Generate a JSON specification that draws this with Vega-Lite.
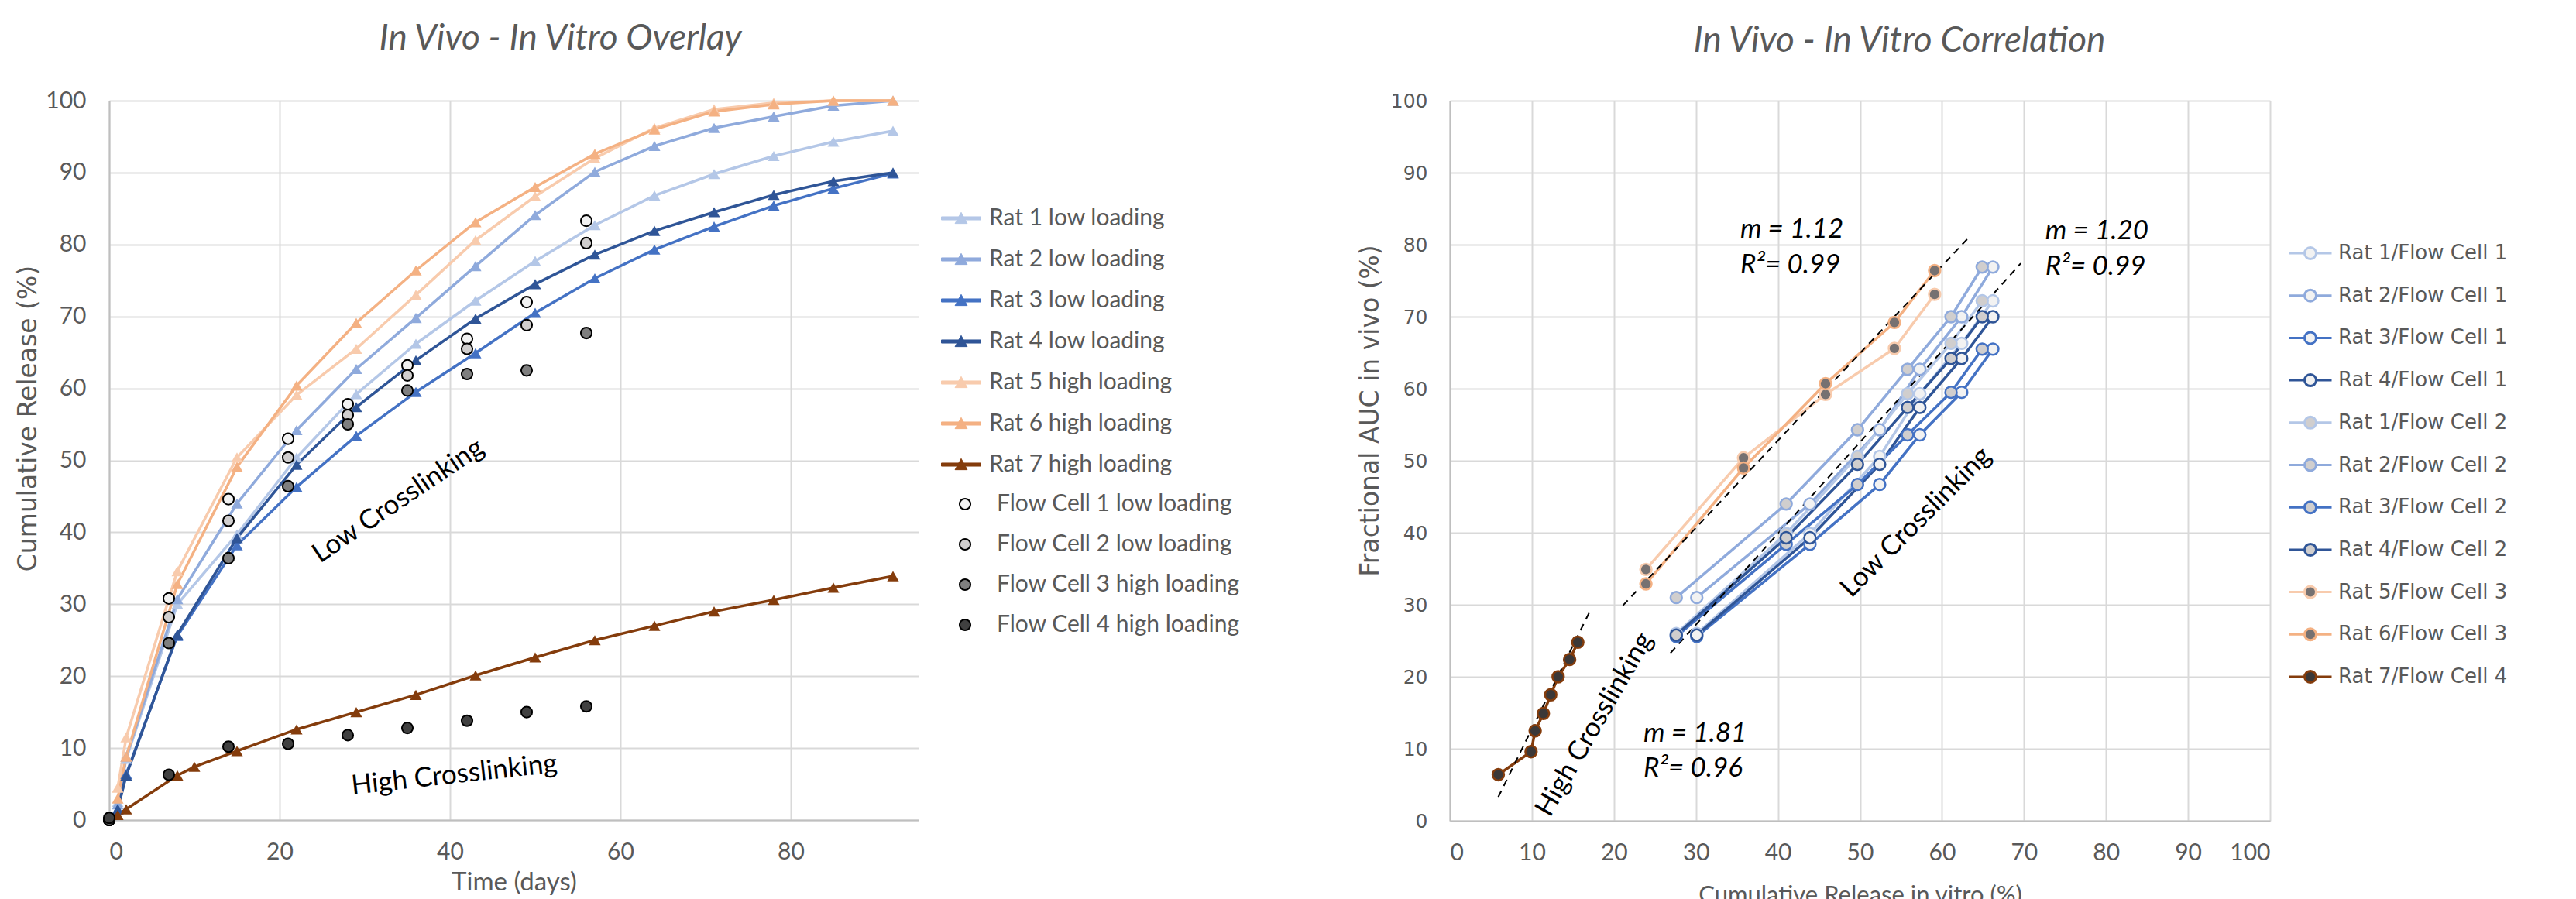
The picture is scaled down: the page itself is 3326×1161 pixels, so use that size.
{
  "$schema": "https://vega.github.io/schema/vega-lite/v6.json",
  "background": "white",
  "autosize": {"type": "pad"},
  "padding": {"left": 20, "top": 27, "right": 0, "bottom": 0},
  "config": {
    "view": {"stroke": null},
    "font": "Lato",
    "axis": {"gridColor": "#D9D9D9", "gridWidth": 2, "domainColor": "#BFBFBF", "domainWidth": 2, "ticks": false, "labelColor": "#595959", "titleColor": "#595959", "labelFont": "Lato", "labelFontSize": 30, "titleFontWeight": "normal", "labelOverlap": false},
    "title": {"font": "Lato", "fontSize": 46, "fontWeight": "normal", "fontStyle": "italic", "color": "#595959"},
    "legend": {"labelFont": "Lato", "labelColor": "#595959", "labelLimit": 0}
  },
  "datasets": {
    "rats": [
      {"s": "Rat 1 low loading", "d": 1, "v": 2.5}, {"s": "Rat 1 low loading", "d": 2, "v": 8.5}, {"s": "Rat 1 low loading", "d": 8, "v": 30.0}, {"s": "Rat 1 low loading", "d": 15, "v": 39.7}, {"s": "Rat 1 low loading", "d": 22, "v": 50.4}, {"s": "Rat 1 low loading", "d": 29, "v": 59.2}, {"s": "Rat 1 low loading", "d": 36, "v": 66.2}, {"s": "Rat 1 low loading", "d": 43, "v": 72.2}, {"s": "Rat 1 low loading", "d": 50, "v": 77.7}, {"s": "Rat 1 low loading", "d": 57, "v": 82.7}, {"s": "Rat 1 low loading", "d": 64, "v": 86.8}, {"s": "Rat 1 low loading", "d": 71, "v": 89.8}, {"s": "Rat 1 low loading", "d": 78, "v": 92.3}, {"s": "Rat 1 low loading", "d": 85, "v": 94.3}, {"s": "Rat 1 low loading", "d": 92, "v": 95.8},
      {"s": "Rat 2 low loading", "d": 1, "v": 2.2}, {"s": "Rat 2 low loading", "d": 2, "v": 8.8}, {"s": "Rat 2 low loading", "d": 8, "v": 30.7}, {"s": "Rat 2 low loading", "d": 15, "v": 44.0}, {"s": "Rat 2 low loading", "d": 22, "v": 54.2}, {"s": "Rat 2 low loading", "d": 29, "v": 62.7}, {"s": "Rat 2 low loading", "d": 36, "v": 69.8}, {"s": "Rat 2 low loading", "d": 43, "v": 77.0}, {"s": "Rat 2 low loading", "d": 50, "v": 84.1}, {"s": "Rat 2 low loading", "d": 57, "v": 90.1}, {"s": "Rat 2 low loading", "d": 64, "v": 93.7}, {"s": "Rat 2 low loading", "d": 71, "v": 96.2}, {"s": "Rat 2 low loading", "d": 78, "v": 97.8}, {"s": "Rat 2 low loading", "d": 85, "v": 99.3}, {"s": "Rat 2 low loading", "d": 92, "v": 100},
      {"s": "Rat 3 low loading", "d": 1, "v": 1.5}, {"s": "Rat 3 low loading", "d": 2, "v": 6.4}, {"s": "Rat 3 low loading", "d": 8, "v": 25.6}, {"s": "Rat 3 low loading", "d": 15, "v": 38.2}, {"s": "Rat 3 low loading", "d": 22, "v": 46.3}, {"s": "Rat 3 low loading", "d": 29, "v": 53.4}, {"s": "Rat 3 low loading", "d": 36, "v": 59.5}, {"s": "Rat 3 low loading", "d": 43, "v": 64.9}, {"s": "Rat 3 low loading", "d": 50, "v": 70.5}, {"s": "Rat 3 low loading", "d": 57, "v": 75.3}, {"s": "Rat 3 low loading", "d": 64, "v": 79.3}, {"s": "Rat 3 low loading", "d": 71, "v": 82.5}, {"s": "Rat 3 low loading", "d": 78, "v": 85.4}, {"s": "Rat 3 low loading", "d": 85, "v": 87.8}, {"s": "Rat 3 low loading", "d": 92, "v": 89.9},
      {"s": "Rat 4 low loading", "d": 1, "v": 1.5}, {"s": "Rat 4 low loading", "d": 2, "v": 6.2}, {"s": "Rat 4 low loading", "d": 8, "v": 25.8}, {"s": "Rat 4 low loading", "d": 15, "v": 39.2}, {"s": "Rat 4 low loading", "d": 22, "v": 49.4}, {"s": "Rat 4 low loading", "d": 29, "v": 57.4}, {"s": "Rat 4 low loading", "d": 36, "v": 63.9}, {"s": "Rat 4 low loading", "d": 43, "v": 69.7}, {"s": "Rat 4 low loading", "d": 50, "v": 74.5}, {"s": "Rat 4 low loading", "d": 57, "v": 78.6}, {"s": "Rat 4 low loading", "d": 64, "v": 81.9}, {"s": "Rat 4 low loading", "d": 71, "v": 84.5}, {"s": "Rat 4 low loading", "d": 78, "v": 86.9}, {"s": "Rat 4 low loading", "d": 85, "v": 88.8}, {"s": "Rat 4 low loading", "d": 92, "v": 90.0},
      {"s": "Rat 5 high loading", "d": 1, "v": 4.5}, {"s": "Rat 5 high loading", "d": 2, "v": 11.5}, {"s": "Rat 5 high loading", "d": 8, "v": 34.6}, {"s": "Rat 5 high loading", "d": 15, "v": 50.4}, {"s": "Rat 5 high loading", "d": 22, "v": 59.1}, {"s": "Rat 5 high loading", "d": 29, "v": 65.5}, {"s": "Rat 5 high loading", "d": 36, "v": 73.0}, {"s": "Rat 5 high loading", "d": 43, "v": 80.6}, {"s": "Rat 5 high loading", "d": 50, "v": 86.7}, {"s": "Rat 5 high loading", "d": 57, "v": 92.0}, {"s": "Rat 5 high loading", "d": 64, "v": 96.2}, {"s": "Rat 5 high loading", "d": 71, "v": 98.8}, {"s": "Rat 5 high loading", "d": 78, "v": 99.7}, {"s": "Rat 5 high loading", "d": 85, "v": 100}, {"s": "Rat 5 high loading", "d": 92, "v": 100},
      {"s": "Rat 6 high loading", "d": 1, "v": 3.0}, {"s": "Rat 6 high loading", "d": 2, "v": 8.8}, {"s": "Rat 6 high loading", "d": 8, "v": 32.8}, {"s": "Rat 6 high loading", "d": 15, "v": 49.1}, {"s": "Rat 6 high loading", "d": 22, "v": 60.4}, {"s": "Rat 6 high loading", "d": 29, "v": 69.1}, {"s": "Rat 6 high loading", "d": 36, "v": 76.4}, {"s": "Rat 6 high loading", "d": 43, "v": 83.1}, {"s": "Rat 6 high loading", "d": 50, "v": 88.0}, {"s": "Rat 6 high loading", "d": 57, "v": 92.6}, {"s": "Rat 6 high loading", "d": 64, "v": 96.0}, {"s": "Rat 6 high loading", "d": 71, "v": 98.5}, {"s": "Rat 6 high loading", "d": 78, "v": 99.5}, {"s": "Rat 6 high loading", "d": 85, "v": 100}, {"s": "Rat 6 high loading", "d": 92, "v": 100},
      {"s": "Rat 7 high loading", "d": 1, "v": 0.7}, {"s": "Rat 7 high loading", "d": 2, "v": 1.5}, {"s": "Rat 7 high loading", "d": 8, "v": 6.2}, {"s": "Rat 7 high loading", "d": 10, "v": 7.4}, {"s": "Rat 7 high loading", "d": 15, "v": 9.6}, {"s": "Rat 7 high loading", "d": 22, "v": 12.6}, {"s": "Rat 7 high loading", "d": 29, "v": 15.0}, {"s": "Rat 7 high loading", "d": 36, "v": 17.4}, {"s": "Rat 7 high loading", "d": 43, "v": 20.1}, {"s": "Rat 7 high loading", "d": 50, "v": 22.6}, {"s": "Rat 7 high loading", "d": 57, "v": 25.0}, {"s": "Rat 7 high loading", "d": 64, "v": 27.0}, {"s": "Rat 7 high loading", "d": 71, "v": 29.0}, {"s": "Rat 7 high loading", "d": 78, "v": 30.6}, {"s": "Rat 7 high loading", "d": 85, "v": 32.3}, {"s": "Rat 7 high loading", "d": 92, "v": 33.9}
    ],
    "cells": [
      {"s": "Flow Cell 1 low loading", "d": 0, "v": 0}, {"s": "Flow Cell 1 low loading", "d": 7, "v": 30.8}, {"s": "Flow Cell 1 low loading", "d": 14, "v": 44.6}, {"s": "Flow Cell 1 low loading", "d": 21, "v": 53.0}, {"s": "Flow Cell 1 low loading", "d": 28, "v": 57.8}, {"s": "Flow Cell 1 low loading", "d": 35, "v": 63.2}, {"s": "Flow Cell 1 low loading", "d": 42, "v": 66.9}, {"s": "Flow Cell 1 low loading", "d": 49, "v": 72.0}, {"s": "Flow Cell 1 low loading", "d": 56, "v": 83.3},
      {"s": "Flow Cell 2 low loading", "d": 0, "v": 0}, {"s": "Flow Cell 2 low loading", "d": 7, "v": 28.2}, {"s": "Flow Cell 2 low loading", "d": 14, "v": 41.6}, {"s": "Flow Cell 2 low loading", "d": 21, "v": 50.4}, {"s": "Flow Cell 2 low loading", "d": 28, "v": 56.3}, {"s": "Flow Cell 2 low loading", "d": 35, "v": 61.8}, {"s": "Flow Cell 2 low loading", "d": 42, "v": 65.5}, {"s": "Flow Cell 2 low loading", "d": 49, "v": 68.8}, {"s": "Flow Cell 2 low loading", "d": 56, "v": 80.2},
      {"s": "Flow Cell 3 high loading", "d": 0, "v": 0}, {"s": "Flow Cell 3 high loading", "d": 7, "v": 24.6}, {"s": "Flow Cell 3 high loading", "d": 14, "v": 36.4}, {"s": "Flow Cell 3 high loading", "d": 21, "v": 46.4}, {"s": "Flow Cell 3 high loading", "d": 28, "v": 55.0}, {"s": "Flow Cell 3 high loading", "d": 35, "v": 59.7}, {"s": "Flow Cell 3 high loading", "d": 42, "v": 62.0}, {"s": "Flow Cell 3 high loading", "d": 49, "v": 62.5}, {"s": "Flow Cell 3 high loading", "d": 56, "v": 67.7},
      {"s": "Flow Cell 4 high loading", "d": 0, "v": 0.3}, {"s": "Flow Cell 4 high loading", "d": 7, "v": 6.3}, {"s": "Flow Cell 4 high loading", "d": 14, "v": 10.2}, {"s": "Flow Cell 4 high loading", "d": 21, "v": 10.6}, {"s": "Flow Cell 4 high loading", "d": 28, "v": 11.8}, {"s": "Flow Cell 4 high loading", "d": 35, "v": 12.8}, {"s": "Flow Cell 4 high loading", "d": 42, "v": 13.8}, {"s": "Flow Cell 4 high loading", "d": 49, "v": 15.0}, {"s": "Flow Cell 4 high loading", "d": 56, "v": 15.8}
    ],
    "corr": [
      {"s": "Rat 1/Flow Cell 1", "x": 30.1, "y": 26.0}, {"s": "Rat 1/Flow Cell 1", "x": 43.9, "y": 39.9}, {"s": "Rat 1/Flow Cell 1", "x": 52.4, "y": 50.6}, {"s": "Rat 1/Flow Cell 1", "x": 57.3, "y": 59.3}, {"s": "Rat 1/Flow Cell 1", "x": 62.4, "y": 66.3}, {"s": "Rat 1/Flow Cell 1", "x": 66.2, "y": 72.2},
      {"s": "Rat 2/Flow Cell 1", "x": 30.1, "y": 31.0}, {"s": "Rat 2/Flow Cell 1", "x": 43.9, "y": 44.0}, {"s": "Rat 2/Flow Cell 1", "x": 52.4, "y": 54.3}, {"s": "Rat 2/Flow Cell 1", "x": 57.3, "y": 62.7}, {"s": "Rat 2/Flow Cell 1", "x": 62.4, "y": 70.0}, {"s": "Rat 2/Flow Cell 1", "x": 66.2, "y": 76.9},
      {"s": "Rat 3/Flow Cell 1", "x": 30.1, "y": 25.6}, {"s": "Rat 3/Flow Cell 1", "x": 43.9, "y": 38.4}, {"s": "Rat 3/Flow Cell 1", "x": 52.4, "y": 46.7}, {"s": "Rat 3/Flow Cell 1", "x": 57.3, "y": 53.6}, {"s": "Rat 3/Flow Cell 1", "x": 62.4, "y": 59.5}, {"s": "Rat 3/Flow Cell 1", "x": 66.2, "y": 65.5},
      {"s": "Rat 4/Flow Cell 1", "x": 30.1, "y": 25.8}, {"s": "Rat 4/Flow Cell 1", "x": 43.9, "y": 39.3}, {"s": "Rat 4/Flow Cell 1", "x": 52.4, "y": 49.5}, {"s": "Rat 4/Flow Cell 1", "x": 57.3, "y": 57.4}, {"s": "Rat 4/Flow Cell 1", "x": 62.4, "y": 64.2}, {"s": "Rat 4/Flow Cell 1", "x": 66.2, "y": 70.0},
      {"s": "Rat 1/Flow Cell 2", "x": 27.6, "y": 26.0}, {"s": "Rat 1/Flow Cell 2", "x": 41.0, "y": 39.9}, {"s": "Rat 1/Flow Cell 2", "x": 49.7, "y": 50.6}, {"s": "Rat 1/Flow Cell 2", "x": 55.8, "y": 59.3}, {"s": "Rat 1/Flow Cell 2", "x": 61.1, "y": 66.3}, {"s": "Rat 1/Flow Cell 2", "x": 64.9, "y": 72.2},
      {"s": "Rat 2/Flow Cell 2", "x": 27.6, "y": 31.0}, {"s": "Rat 2/Flow Cell 2", "x": 41.0, "y": 44.0}, {"s": "Rat 2/Flow Cell 2", "x": 49.7, "y": 54.3}, {"s": "Rat 2/Flow Cell 2", "x": 55.8, "y": 62.7}, {"s": "Rat 2/Flow Cell 2", "x": 61.1, "y": 70.0}, {"s": "Rat 2/Flow Cell 2", "x": 64.9, "y": 76.9},
      {"s": "Rat 3/Flow Cell 2", "x": 27.6, "y": 25.6}, {"s": "Rat 3/Flow Cell 2", "x": 41.0, "y": 38.4}, {"s": "Rat 3/Flow Cell 2", "x": 49.7, "y": 46.7}, {"s": "Rat 3/Flow Cell 2", "x": 55.8, "y": 53.6}, {"s": "Rat 3/Flow Cell 2", "x": 61.1, "y": 59.5}, {"s": "Rat 3/Flow Cell 2", "x": 64.9, "y": 65.5},
      {"s": "Rat 4/Flow Cell 2", "x": 27.6, "y": 25.8}, {"s": "Rat 4/Flow Cell 2", "x": 41.0, "y": 39.3}, {"s": "Rat 4/Flow Cell 2", "x": 49.7, "y": 49.5}, {"s": "Rat 4/Flow Cell 2", "x": 55.8, "y": 57.4}, {"s": "Rat 4/Flow Cell 2", "x": 61.1, "y": 64.2}, {"s": "Rat 4/Flow Cell 2", "x": 64.9, "y": 70.0},
      {"s": "Rat 5/Flow Cell 3", "x": 23.9, "y": 34.9}, {"s": "Rat 5/Flow Cell 3", "x": 35.8, "y": 50.4}, {"s": "Rat 5/Flow Cell 3", "x": 45.8, "y": 59.2}, {"s": "Rat 5/Flow Cell 3", "x": 54.2, "y": 65.6}, {"s": "Rat 5/Flow Cell 3", "x": 59.1, "y": 73.1},
      {"s": "Rat 6/Flow Cell 3", "x": 23.9, "y": 32.9}, {"s": "Rat 6/Flow Cell 3", "x": 35.8, "y": 49.0}, {"s": "Rat 6/Flow Cell 3", "x": 45.8, "y": 60.7}, {"s": "Rat 6/Flow Cell 3", "x": 54.2, "y": 69.2}, {"s": "Rat 6/Flow Cell 3", "x": 59.1, "y": 76.4},
      {"s": "Rat 7/Flow Cell 4", "x": 5.9, "y": 6.4}, {"s": "Rat 7/Flow Cell 4", "x": 9.9, "y": 9.6}, {"s": "Rat 7/Flow Cell 4", "x": 10.4, "y": 12.5}, {"s": "Rat 7/Flow Cell 4", "x": 11.4, "y": 14.9}, {"s": "Rat 7/Flow Cell 4", "x": 12.3, "y": 17.5}, {"s": "Rat 7/Flow Cell 4", "x": 13.2, "y": 20.0}, {"s": "Rat 7/Flow Cell 4", "x": 14.6, "y": 22.4}, {"s": "Rat 7/Flow Cell 4", "x": 15.6, "y": 24.8}
    ],
    "fits": [
      {"f": "high loading fit", "x": 21.1, "y": 29.9}, {"f": "high loading fit", "x": 63.1, "y": 80.8},
      {"f": "low loading fit", "x": 26.9, "y": 23.3}, {"f": "low loading fit", "x": 69.6, "y": 77.4},
      {"f": "high crosslinking fit", "x": 5.9, "y": 3.3}, {"f": "high crosslinking fit", "x": 17.2, "y": 29.4}
    ],
    "stats": [
      {"t": "m = 1.12", "x": 35.4, "y": 82.1}, {"t": "R²= 0.99", "x": 35.4, "y": 77.2},
      {"t": "m = 1.20", "x": 72.6, "y": 81.9}, {"t": "R²= 0.99", "x": 72.6, "y": 77.0},
      {"t": "m = 1.81", "x": 23.6, "y": 12.2}, {"t": "R²= 0.96", "x": 23.6, "y": 7.3}
    ]
  },
  "spacing": 686,
  "bounds": "flush",
  "resolve": {"scale": {"color": "independent", "fill": "independent", "stroke": "independent"}},
  "hconcat": [
    {
      "width": 1045,
      "height": 929,
      "title": {"text": "In Vivo - In Vitro Overlay", "frame": "group", "dx": 60, "offset": 41},
      "encoding": {
        "x": {"field": "d", "type": "quantitative", "scale": {"domain": [0, 95], "nice": false}, "axis": {"values": [0, 20, 40, 60, 80], "title": "Time (days)", "titleFont": "Lato", "titleFontSize": 33, "labelPadding": 26, "titlePadding": 8}},
        "y": {"field": "v", "type": "quantitative", "scale": {"domain": [0, 100], "nice": false}, "axis": {"values": [0, 10, 20, 30, 40, 50, 60, 70, 80, 90, 100], "title": "Cumulative Release (%)", "titleFont": "DejaVu Sans", "titleFontSize": 33, "titleY": 410, "labelPadding": 30, "titlePadding": 5}}
      },
      "layer": [
        {
          "data": {"name": "rats"},
          "mark": {"type": "line", "strokeWidth": 3.5},
          "encoding": {
            "color": {"field": "s", "type": "nominal",
              "scale": {"domain": ["Rat 1 low loading", "Rat 2 low loading", "Rat 3 low loading", "Rat 4 low loading", "Rat 5 high loading", "Rat 6 high loading", "Rat 7 high loading"],
                        "range": ["#B4C7E7", "#8FAADC", "#4472C4", "#2F5597", "#F8CBAD", "#F4B183", "#843C0C"]},
              "legend": {"orient": "none", "legendX": 1085, "legendY": 137, "title": null, "padding": 0,
                         "symbolType": "M-2,-0.16H2V0.16H-2Z M0,-0.6L0.62,0.52H-0.62Z", "symbolSize": 650, "symbolStrokeWidth": 1,
                         "labelFontSize": 30, "rowPadding": 23, "labelOffset": 21}}
          }
        },
        {
          "data": {"name": "rats"},
          "mark": {"type": "point", "shape": "triangle-up", "filled": true, "size": 230, "opacity": 1},
          "encoding": {
            "color": {"field": "s", "type": "nominal",
              "scale": {"domain": ["Rat 1 low loading", "Rat 2 low loading", "Rat 3 low loading", "Rat 4 low loading", "Rat 5 high loading", "Rat 6 high loading", "Rat 7 high loading"],
                        "range": ["#B4C7E7", "#8FAADC", "#4472C4", "#2F5597", "#F8CBAD", "#F4B183", "#843C0C"]},
              "legend": {"orient": "none", "legendX": 1085, "legendY": 137, "title": null, "padding": 0,
                         "symbolType": "M-2,-0.16H2V0.16H-2Z M0,-0.6L0.62,0.52H-0.62Z", "symbolSize": 650, "symbolStrokeWidth": 1,
                         "labelFontSize": 30, "rowPadding": 23, "labelOffset": 21}}
          }
        },
        {
          "data": {"name": "cells"},
          "mark": {"type": "point", "shape": "circle", "filled": true, "size": 200, "stroke": "black", "strokeWidth": 2, "opacity": 1},
          "encoding": {
            "fill": {"field": "s", "type": "nominal",
              "scale": {"domain": ["Flow Cell 1 low loading", "Flow Cell 2 low loading", "Flow Cell 3 high loading", "Flow Cell 4 high loading"],
                        "range": ["#F2F2F2", "#D0CECE", "#7F7F7F", "#404040"]},
              "legend": {"orient": "none", "legendX": 1090, "legendY": 506, "title": null, "padding": 0,
                         "symbolType": "circle", "symbolSize": 200, "symbolStrokeWidth": 2,
                         "labelFontSize": 30, "rowPadding": 22, "labelOffset": 26}}
          }
        },
        {
          "data": {"values": [{"t": "Low Crosslinking", "d": 33.9, "v": 44.4}]},
          "mark": {"type": "text", "angle": 326, "font": "Lato", "fontSize": 35, "color": "black", "align": "center", "baseline": "middle"},
          "encoding": {"text": {"field": "t"}}
        },
        {
          "data": {"values": [{"t": "High Crosslinking", "d": 40.5, "v": 6.3}]},
          "mark": {"type": "text", "angle": 353.7, "font": "Lato", "fontSize": 35, "color": "black", "align": "center", "baseline": "middle"},
          "encoding": {"text": {"field": "t"}}
        }
      ]
    },
    {
      "width": 1059,
      "height": 930,
      "title": {"text": "In Vivo - In Vitro Correlation", "frame": "group", "dx": 51, "offset": 41},
      "encoding": {
        "x": {"field": "x", "type": "quantitative", "scale": {"domain": [0, 100], "nice": false}, "axis": {"values": [0, 10, 20, 30, 40, 50, 60, 70, 80, 90, 100], "title": "Cumulative Release in vitro (%)", "titleFont": "Lato", "titleFontSize": 31, "labelPadding": 26, "titlePadding": 25}},
        "y": {"field": "y", "type": "quantitative", "scale": {"domain": [0, 100], "nice": false}, "axis": {"values": [0, 10, 20, 30, 40, 50, 60, 70, 80, 90, 100], "title": "Fractional AUC  in vivo  (%)", "titleFont": "DejaVu Sans", "titleFontSize": 33, "titleY": 400, "labelFont": "DejaVu Sans", "labelFontSize": 25, "labelPadding": 29, "titlePadding": 9}}
      },
      "layer": [
        {
          "data": {"name": "corr"},
          "mark": {"type": "line", "strokeWidth": 3.5},
          "encoding": {
            "stroke": {"field": "s", "type": "nominal",
              "scale": {"domain": ["Rat 1/Flow Cell 1", "Rat 2/Flow Cell 1", "Rat 3/Flow Cell 1", "Rat 4/Flow Cell 1", "Rat 1/Flow Cell 2", "Rat 2/Flow Cell 2", "Rat 3/Flow Cell 2", "Rat 4/Flow Cell 2", "Rat 5/Flow Cell 3", "Rat 6/Flow Cell 3", "Rat 7/Flow Cell 4"],
                        "range": ["#B4C7E7", "#8FAADC", "#4472C4", "#2F5597", "#B4C7E7", "#8FAADC", "#4472C4", "#2F5597", "#F8CBAD", "#F4B183", "#843C0C"]},
              "legend": {"orient": "none", "legendX": 1097, "legendY": 183, "title": null, "padding": 0,
                         "symbolType": "M-2.2,0H-0.6M0.6,0H2.2M0.6,0A0.6,0.6,0,1,1,-0.6,0A0.6,0.6,0,1,1,0.6,0Z", "symbolSize": 625, "symbolStrokeWidth": 3,
                         "labelFont": "DejaVu Sans", "labelFontSize": 26, "rowPadding": 26.7, "labelOffset": 22}}
          }
        },
        {
          "data": {"name": "fits"},
          "mark": {"type": "line", "color": "black", "strokeWidth": 2, "strokeDash": [9, 7]},
          "encoding": {"detail": {"field": "f", "type": "nominal"}}
        },
        {
          "data": {"name": "corr"},
          "mark": {"type": "point", "shape": "circle", "filled": true, "size": 220, "strokeWidth": 2.5, "opacity": 1},
          "encoding": {
            "stroke": {"field": "s", "type": "nominal",
              "scale": {"domain": ["Rat 1/Flow Cell 1", "Rat 2/Flow Cell 1", "Rat 3/Flow Cell 1", "Rat 4/Flow Cell 1", "Rat 1/Flow Cell 2", "Rat 2/Flow Cell 2", "Rat 3/Flow Cell 2", "Rat 4/Flow Cell 2", "Rat 5/Flow Cell 3", "Rat 6/Flow Cell 3", "Rat 7/Flow Cell 4"],
                        "range": ["#B4C7E7", "#8FAADC", "#4472C4", "#2F5597", "#B4C7E7", "#8FAADC", "#4472C4", "#2F5597", "#F8CBAD", "#F4B183", "#843C0C"]},
              "legend": {"orient": "none", "legendX": 1097, "legendY": 183, "title": null, "padding": 0,
                         "symbolType": "M-2.2,0H-0.6M0.6,0H2.2M0.6,0A0.6,0.6,0,1,1,-0.6,0A0.6,0.6,0,1,1,0.6,0Z", "symbolSize": 625, "symbolStrokeWidth": 3,
                         "labelFont": "DejaVu Sans", "labelFontSize": 26, "rowPadding": 26.7, "labelOffset": 22}},
            "fill": {"field": "s", "type": "nominal",
              "scale": {"domain": ["Rat 1/Flow Cell 1", "Rat 2/Flow Cell 1", "Rat 3/Flow Cell 1", "Rat 4/Flow Cell 1", "Rat 1/Flow Cell 2", "Rat 2/Flow Cell 2", "Rat 3/Flow Cell 2", "Rat 4/Flow Cell 2", "Rat 5/Flow Cell 3", "Rat 6/Flow Cell 3", "Rat 7/Flow Cell 4"],
                        "range": ["#F2F2F2", "#F2F2F2", "#F2F2F2", "#F2F2F2", "#D0CECE", "#D0CECE", "#D0CECE", "#D0CECE", "#767171", "#767171", "#3B3838"]},
              "legend": {"orient": "none", "legendX": 1097, "legendY": 183, "title": null, "padding": 0,
                         "symbolType": "M-2.2,0H-0.6M0.6,0H2.2M0.6,0A0.6,0.6,0,1,1,-0.6,0A0.6,0.6,0,1,1,0.6,0Z", "symbolSize": 625, "symbolStrokeWidth": 3,
                         "labelFont": "DejaVu Sans", "labelFontSize": 26, "rowPadding": 26.7, "labelOffset": 22}}
          }
        },
        {
          "data": {"name": "stats"},
          "mark": {"type": "text", "font": "Lato", "fontStyle": "italic", "fontSize": 35, "color": "black", "align": "left", "baseline": "middle"},
          "encoding": {"text": {"field": "t"}}
        },
        {
          "data": {"values": [{"t": "Low Crosslinking", "x": 56.8, "y": 41.5}]},
          "mark": {"type": "text", "angle": 315, "font": "Lato", "fontSize": 35, "color": "black", "align": "center", "baseline": "middle"},
          "encoding": {"text": {"field": "t"}}
        },
        {
          "data": {"values": [{"t": "High Crosslinking", "x": 17.6, "y": 13.4}]},
          "mark": {"type": "text", "angle": 300, "font": "Lato", "fontSize": 35, "color": "black", "align": "center", "baseline": "middle"},
          "encoding": {"text": {"field": "t"}}
        }
      ]
    }
  ]
}
